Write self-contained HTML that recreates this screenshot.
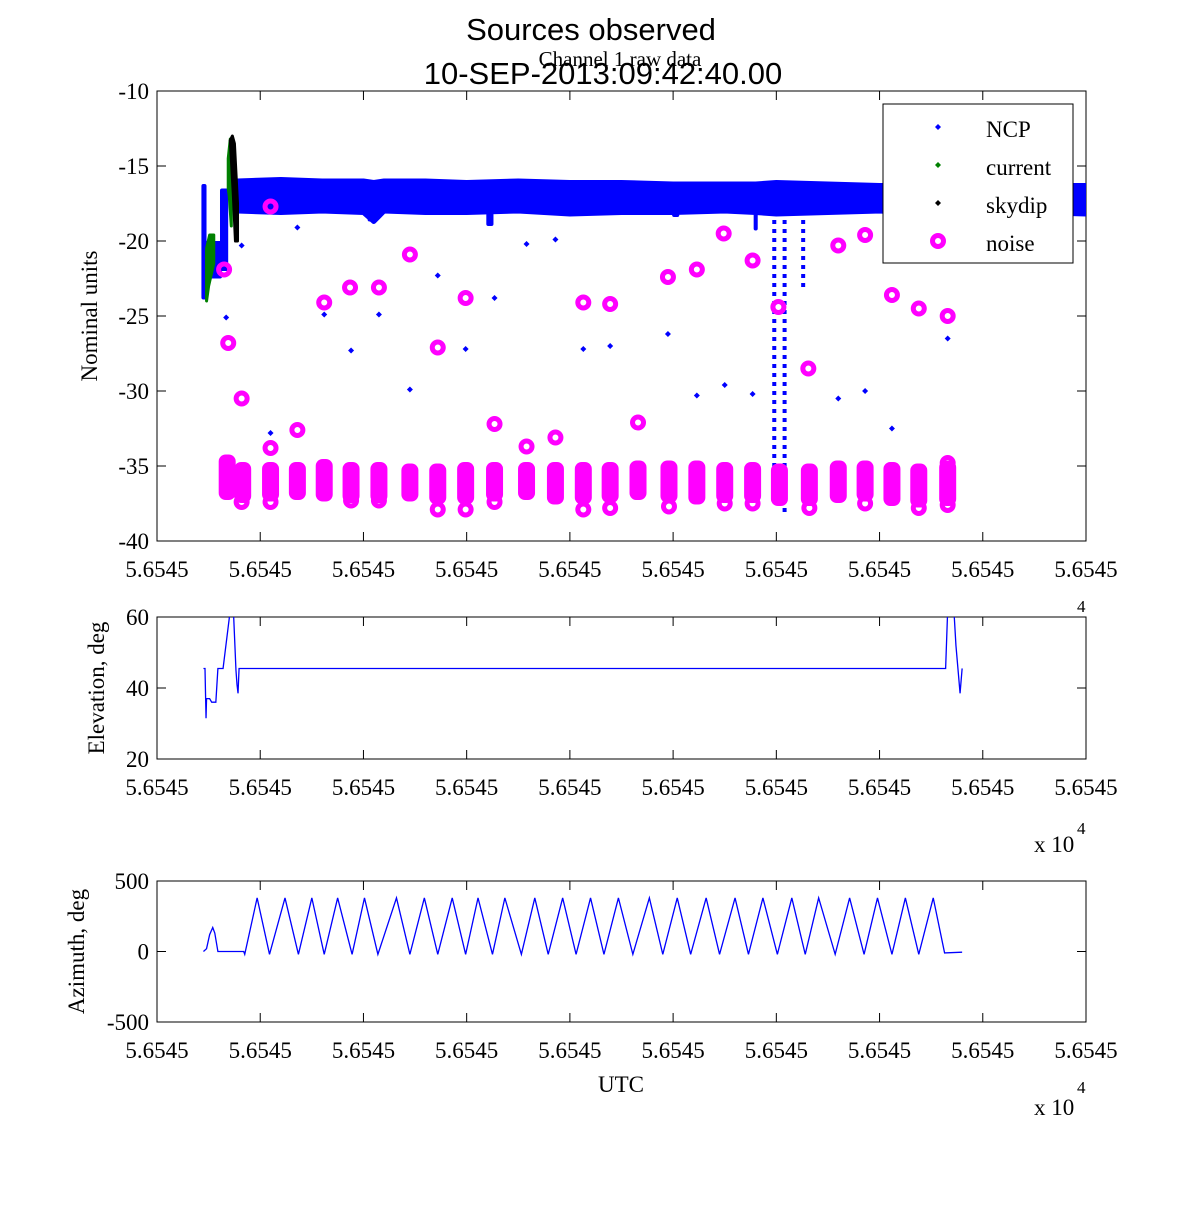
<!DOCTYPE html>
<html><head><meta charset="utf-8"><style>
html,body{margin:0;padding:0;background:#fff}
svg text{font-family:"Liberation Serif",serif}
</style></head><body>
<svg id="fig" width="1200" height="1200" viewBox="0 0 1200 1200" xmlns="http://www.w3.org/2000/svg">
<rect width="1200" height="1200" fill="#fff"/>
<text x="591" y="40" text-anchor="middle" font-size="31" style="font-family:'Liberation Sans',sans-serif">Sources observed</text>
<text x="620" y="66" text-anchor="middle" font-size="21">Channel 1 raw data</text>
<text x="603" y="84" text-anchor="middle" font-size="31" style="font-family:'Liberation Sans',sans-serif">10-SEP-2013:09:42:40.00</text>
<g id="g"></g>
</svg>
<script>
// ---- data (x in tick-index units 0..9) ----
const xTickLabels=["5.6545","5.6545","5.6545","5.6545","5.6545","5.6545","5.6545","5.6545","5.6545","5.6545"];
const topYTicks=[-10,-15,-20,-25,-30,-35,-40];
const elevYTicks=[20,40,60];
const azYTicks=[-500,0,500];
// NCP band envelope
const bandX=[0.78,1.2,1.6,2.0,2.1,2.2,2.6,3.0,3.5,4.0,4.5,5.0,5.5,5.8,6.0,6.5,7.0,7.5,8.0,8.5,9.0];
const bandTop=[-16.0,-15.9,-16.0,-16.0,-16.1,-16.0,-16.0,-16.1,-16.0,-16.1,-16.1,-16.2,-16.2,-16.2,-16.1,-16.2,-16.3,-16.3,-16.3,-16.3,-16.3];
const bandBot=[-18.0,-18.1,-18.0,-18.1,-18.7,-18.0,-18.1,-18.1,-18.0,-18.2,-18.1,-18.1,-18.0,-18.1,-18.2,-18.1,-18.0,-18.2,-18.1,-18.1,-18.2];
// early NCP columns [x0,x1,top,bottom]
const ncpColX0=[0.44,0.47,0.62,2.05,3.2,5.0,5.79];
const ncpColX1=[0.47,0.62,0.68,2.1,3.25,5.05,5.81];
const ncpColTop=[-16.2,-20.0,-16.5,-17.5,-17.5,-17.5,-17.5];
const ncpColBot=[-23.9,-22.5,-22.0,-18.7,-19.0,-18.4,-19.3];
// NCP spikes (dotted columns)
const spikeX=[5.98,6.08,6.26];
const spikeBot=[-37.3,-38.2,-23.3];
// NCP isolated points
const ncpPtX=[0.67,1.10,1.36,1.62,1.88,2.15,2.45,2.72,2.99,3.27,3.58,3.86,4.13,4.39,4.95,5.23,5.50,5.77,6.60,6.86,7.12,7.66,0.82];
const ncpPtY=[-25.1,-32.8,-19.1,-24.9,-27.3,-24.9,-29.9,-22.3,-27.2,-23.8,-20.2,-19.9,-27.2,-27.0,-26.2,-30.3,-29.6,-30.2,-30.5,-30.0,-32.5,-26.5,-20.3];
// current (green) and skydip (black) shapes
const currentX=[0.48,0.51,0.55,0.55,0.50,0.48];
const currentY=[-20.5,-19.6,-19.6,-21.5,-23.0,-24.0];
const current2X=[0.69,0.71,0.72,0.72,0.70,0.69];
const current2Y=[-14.5,-13.2,-13.3,-19.0,-17.0,-16.5];
const skydipX=[0.71,0.73,0.75,0.78,0.78,0.76,0.74,0.72];
const skydipY=[-13.3,-13.0,-13.5,-17.5,-20.0,-20.0,-17.0,-14.5];
// noise
const noiseColX=[0.68,0.83,1.10,1.36,1.62,1.88,2.15,2.45,2.72,2.99,3.27,3.58,3.86,4.13,4.39,4.66,4.96,5.23,5.50,5.77,6.03,6.32,6.60,6.86,7.12,7.38,7.66];
const noiseColTop=[-34.5,-35.0,-35.0,-35.0,-34.8,-35.0,-35.0,-35.1,-35.1,-35.0,-35.0,-35.0,-35.0,-35.0,-35.0,-34.9,-34.9,-34.9,-35.0,-35.0,-35.1,-35.1,-34.9,-34.9,-35.0,-35.1,-34.9];
const noiseColBot=[-37.0,-37.2,-37.1,-37.0,-37.1,-37.2,-37.2,-37.1,-37.3,-37.3,-37.1,-37.0,-37.3,-37.3,-37.2,-37.0,-37.2,-37.3,-37.2,-37.2,-37.4,-37.4,-37.2,-37.1,-37.4,-37.5,-37.4];
const noisePtX=[0.65,0.69,0.82,1.10,1.10,1.36,1.62,1.87,2.15,2.45,2.72,2.99,3.27,3.58,3.86,4.13,4.39,4.66,4.95,5.23,5.49,5.77,6.02,6.31,6.60,6.86,7.12,7.38,7.66,0.82,1.10,1.88,2.15,2.72,2.99,3.27,4.13,4.39,4.96,5.50,5.77,6.32,6.86,7.38,7.66,7.66];
const noisePtY=[-21.9,-26.8,-30.5,-17.7,-33.8,-32.6,-24.1,-23.1,-23.1,-20.9,-27.1,-23.8,-32.2,-33.7,-33.1,-24.1,-24.2,-32.1,-22.4,-21.9,-19.5,-21.3,-24.4,-28.5,-20.3,-19.6,-23.6,-24.5,-25.0,-37.4,-37.4,-37.3,-37.3,-37.9,-37.9,-37.4,-37.9,-37.8,-37.7,-37.5,-37.5,-37.8,-37.5,-37.8,-34.8,-37.6];
// elevation
const elevX=[0.45,0.465,0.475,0.48,0.51,0.53,0.57,0.59,0.64,0.71,0.74,0.765,0.775,0.785,0.795,7.64,7.66,7.72,7.74,7.78,7.80];
const elevY=[45.5,45.5,31.5,37,37,36,36,45.5,45.5,62,62,45,41,38.5,45.5,45.5,62,62,52,38.5,45.5];
// azimuth
const azX=[0.45,0.48,0.51,0.54,0.56,0.59,0.84,0.85,0.97,1.09,1.24,1.37,1.50,1.62,1.75,1.89,2.01,2.14,2.32,2.45,2.59,2.72,2.86,2.99,3.11,3.25,3.37,3.53,3.66,3.79,3.93,4.06,4.20,4.33,4.47,4.61,4.77,4.90,5.04,5.17,5.32,5.45,5.60,5.73,5.87,6.01,6.15,6.28,6.41,6.57,6.71,6.85,6.98,7.12,7.25,7.38,7.52,7.63,7.80];
const azY=[0,20,120,170,130,0,0,-20,380,-20,380,-20,380,-20,380,-20,380,-20,380,-20,380,-20,380,-20,380,-20,380,-20,380,-20,380,-20,380,-20,380,-20,380,-20,380,-20,380,-20,380,-20,380,-20,380,-20,380,-20,380,-20,380,-20,380,-20,380,-10,-5];

const NS="http://www.w3.org/2000/svg";
const G=document.getElementById('g');
function mk(tag,attrs,parent){const e=document.createElementNS(NS,tag);for(const k in attrs)e.setAttribute(k,attrs[k]);(parent||G).appendChild(e);return e;}
const L=157,R=1086,xs=u=>L+u*(R-L)/9;
const axes={top:{t:91,b:541,min:-40,max:-10},el:{t:617,b:759,min:20,max:60},az:{t:881,b:1022,min:-500,max:500}};
function ys(a,v){return a.b-(v-a.min)/(a.max-a.min)*(a.b-a.t);}
const A=axes.top,E=axes.el,Z=axes.az;

const defs=mk('defs',{});
for(const [id,a] of [['cT',A],['cE',E],['cZ',Z]]){const c=mk('clipPath',{id:id},defs);mk('rect',{x:L,y:a.t,width:R-L,height:a.b-a.t},c);}

function drawAxes(a,ticks,name,ylabel,ly){
  const g=mk('g',{});
  
  
  mk('rect',{x:L,y:a.t,width:R-L,height:a.b-a.t,fill:'none',stroke:'#000','stroke-width':1},g);
  for(let i=0;i<xTickLabels.length;i++){
    const x=xs(i);
    mk('line',{x1:x,x2:x,y1:a.b,y2:a.b-9,stroke:'#000'},g);
    mk('line',{x1:x,x2:x,y1:a.t,y2:a.t+9,stroke:'#000'},g);
    const t=mk('text',{x:x,y:a.b+36,'text-anchor':'middle','font-size':23},g);
    
    
    t.textContent=xTickLabels[i];
  }
  for(const v of ticks){
    const y=ys(a,v);
    mk('line',{x1:L,x2:L+9,y1:y,y2:y,stroke:'#000'},g);
    mk('line',{x1:R,x2:R-9,y1:y,y2:y,stroke:'#000'},g);
    const t=mk('text',{x:L-8,y:y+8,'text-anchor':'end','font-size':23},g);
    
    
    t.textContent=v;
  }
  const yl=mk('text',{x:0,y:0,'text-anchor':'middle','font-size':23,transform:`translate(${ly},${(a.t+a.b)/2}) rotate(-90)`},g);
  
  
  yl.textContent=ylabel;
}
drawAxes(A,topYTicks,'raw-data','Nominal units',97);
drawAxes(E,elevYTicks,'elevation','Elevation, deg',104);
drawAxes(Z,azYTicks,'azimuth','Azimuth, deg',84);

const gT=mk('g',{'clip-path':'url(#cT)'});


let d='M'+bandX.map((x,i)=>xs(x)+','+ys(A,bandTop[i])).join('L');
for(let i=bandX.length-1;i>=0;i--) d+='L'+xs(bandX[i])+','+ys(A,bandBot[i]);
const band=mk('path',{d:d+'Z',fill:'#0000ff',stroke:'#0000ff','stroke-width':5,'stroke-linejoin':'round'},gT);


for(let i=0;i<ncpColX0.length;i++){
  const r=mk('rect',{x:xs(ncpColX0[i])-1,y:ys(A,ncpColTop[i]),width:xs(ncpColX1[i])-xs(ncpColX0[i])+2,height:ys(A,ncpColBot[i])-ys(A,ncpColTop[i]),fill:'#0000ff',rx:2},gT);
  
  
}
function dot(x,y,col,parent){return mk('path',{d:`M${x-3},${y}L${x},${y-3}L${x+3},${y}L${x},${y+3}Z`,fill:col},parent);}
for(let i=0;i<spikeX.length;i++){
  const x=xs(spikeX[i]);
  const l=mk('line',{x1:x,x2:x,y1:ys(A,-18),y2:ys(A,spikeBot[i]),stroke:'#0000ff','stroke-width':4,'stroke-dasharray':'4 5'},gT);
  
  
}
for(let i=0;i<ncpPtX.length;i++){
  const p=dot(xs(ncpPtX[i]),ys(A,ncpPtY[i]),'#0000ff',gT);
  
  
}
function poly(X,Y,col,name){
  const p=mk('path',{d:'M'+X.map((x,i)=>xs(x)+','+ys(A,Y[i])).join('L')+'Z',fill:col,stroke:col,'stroke-width':3,'stroke-linejoin':'round'},gT);
  
  
}
poly(currentX,currentY,'#008000','current-series');
poly(current2X,current2Y,'#008000','current-series-2');
poly(skydipX,skydipY,'#000000','skydip-series');
for(let i=0;i<noiseColX.length;i++){
  const x=xs(noiseColX[i]);
  const r=mk('rect',{x:x-8.5,y:ys(A,noiseColTop[i])-4,width:17,height:ys(A,noiseColBot[i])-ys(A,noiseColTop[i])+8,rx:7,fill:'#ff00ff'},gT);
  
  
}
for(let i=0;i<noisePtX.length;i++){
  const c=mk('circle',{cx:xs(noisePtX[i]),cy:ys(A,noisePtY[i]),r:5.5,fill:'none',stroke:'#ff00ff','stroke-width':5},gT);
  
  
}

const lg=mk('g',{});


mk('rect',{x:883,y:104,width:190,height:159,fill:'#fff',stroke:'#000'},lg);
const legNames=['NCP','current','skydip','noise'],legCols=['#0000ff','#008000','#000000','#ff00ff'];
for(let i=0;i<4;i++){
  const y=127+i*38;
  if(i<3) dot(938,y,legCols[i],lg); else mk('circle',{cx:938,cy:y,r:5.5,fill:'none',stroke:'#ff00ff','stroke-width':5},lg);
  const t=mk('text',{x:986,y:y+10,'font-size':23},lg);
  
  
  t.textContent=legNames[i];
}

const el=mk('path',{d:'M'+elevX.map((x,i)=>xs(x)+','+ys(E,elevY[i])).join('L'),fill:'none',stroke:'#0000ff','stroke-width':1.3,'clip-path':'url(#cE)'});


const az=mk('path',{d:'M'+azX.map((x,i)=>xs(x)+','+ys(Z,azY[i])).join('L'),fill:'none',stroke:'#0000ff','stroke-width':1.3,'clip-path':'url(#cZ)'});



function txt(x,y,s,fs,name){const t=mk('text',{x:x,y:y,'font-size':fs});t.textContent=s;return t;}
txt(1077,612,'4',17,'x-exponent-top');
txt(1034,852,'x 10',23,'x-multiplier-elevation');
txt(1077,834,'4',17,'x-exponent-elevation');
txt(1034,1115,'x 10',23,'x-multiplier-azimuth');
txt(1077,1093,'4',17,'x-exponent-azimuth');
const xl=txt(621,1092,'UTC',23,'x-axis-title');xl.setAttribute('text-anchor','middle');
</script>
</body></html>
